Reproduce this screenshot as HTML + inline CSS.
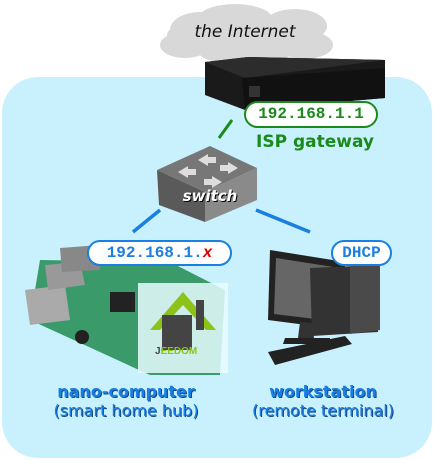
<!DOCTYPE html>
<html><head><style>
html,body{margin:0;padding:0;background:#fff;}
body{width:434px;height:460px;position:relative;overflow:hidden;font-family:"Liberation Sans","DejaVu Sans",sans-serif;}
.abs{position:absolute;}
.pill{position:absolute;background:#fff;border-radius:14px;font-family:"Liberation Mono","DejaVu Sans Mono",monospace;font-weight:bold;font-size:16px;text-align:center;box-sizing:border-box;}
.lbl{position:absolute;text-align:center;color:#1a7fe0;font-family:"DejaVu Sans",sans-serif;font-size:15px;line-height:19px;text-shadow:1px 1px 0 #124a8a;}
</style></head><body>
<div class="abs" style="left:2px;top:77px;width:430px;height:381px;background:#c9f1fd;border-radius:36px;"></div>
<svg class="abs" style="left:0;top:0" width="434" height="460">
 <g fill="#d8d8d8">
  <ellipse cx="245" cy="35" rx="78" ry="20"/>
  <ellipse cx="200" cy="30" rx="30" ry="18"/>
  <ellipse cx="235" cy="20" rx="38" ry="16"/>
  <ellipse cx="295" cy="26" rx="32" ry="17"/>
  <ellipse cx="185" cy="45" rx="25" ry="13"/>
  <ellipse cx="305" cy="45" rx="28" ry="14"/>
  <ellipse cx="245" cy="54" rx="45" ry="10"/>
 </g>
 <polygon points="205,62 248,57 385,60 385,98 245,110 205,95" fill="#1a1a1a"/>
 <polygon points="205,62 248,57 385,60 245,78" fill="#2c2c2c"/>
 <polygon points="242,78 385,68 385,98 245,110" fill="#111"/>
 <rect x="249" y="86" width="11" height="11" fill="#333"/>
 <line x1="232" y1="120" x2="219" y2="138" stroke="#1a8a1a" stroke-width="3"/>
 <polygon points="157,170 210,146 257,168 205,192" fill="#777"/>
 <polygon points="157,170 205,192 205,222 159,205" fill="#5a5a5a"/>
 <polygon points="205,192 257,168 257,200 205,222" fill="#8a8a8a"/>
 <g fill="#ddd">
  <polygon points="178,172 188,166 188,169 196,169 196,175 188,175 188,178"/>
  <polygon points="198,160 208,154 208,157 216,157 216,163 208,163 208,166"/>
  <polygon points="238,168 228,174 228,171 220,171 220,165 228,165 228,162"/>
  <polygon points="222,182 212,188 212,185 204,185 204,179 212,179 212,176"/>
 </g>
 <line x1="160" y1="210" x2="133" y2="232" stroke="#1a7fe0" stroke-width="3.5"/>
 <line x1="256" y1="210" x2="310" y2="232" stroke="#1a7fe0" stroke-width="3.5"/>
 <polygon points="40,260 170,262 225,290 220,375 150,375 30,320" fill="#3a9a6a"/>
 <polygon points="25,290 65,285 70,320 30,325" fill="#aaa"/>
 <polygon points="45,265 80,262 85,285 48,290" fill="#999"/>
 <polygon points="60,248 100,245 100,270 62,272" fill="#888"/>
 <rect x="110" y="292" width="25" height="20" fill="#222"/>
 <rect x="75" y="330" width="14" height="14" rx="7" fill="#222"/>
 <rect x="138" y="283" width="90" height="90" fill="#e8fbff" opacity="0.85"/>
 <polygon points="150,330 183,292 216,330 206,330 183,305 160,330" fill="#8cc21a"/>
 <rect x="162" y="315" width="30" height="35" fill="#444"/>
 <rect x="196" y="300" width="8" height="30" fill="#444"/>
 <polygon points="270,250 345,262 345,330 268,320" fill="#222"/>
 <polygon points="276,258 340,268 340,322 274,314" fill="#666"/>
 <polygon points="300,322 312,323 314,338 298,338" fill="#333"/>
 <polygon points="285,338 330,338 330,344 283,344" fill="#222"/>
 <polygon points="310,268 378,265 378,332 312,336" fill="#333"/>
 <polygon points="350,265 380,262 380,330 350,334" fill="#4a4a4a"/>
 <polygon points="268,352 345,336 352,344 275,365" fill="#222"/>
</svg>
<div class="abs" style="left:170px;top:22px;width:150px;text-align:center;font-style:italic;font-size:17px;font-family:'DejaVu Sans',sans-serif;color:#111;">the Internet</div>
<div class="pill" style="left:244px;top:101px;width:134px;height:27px;line-height:23px;border:2px solid #1a8a1a;color:#1a8a1a;">192.168.1.1</div>
<div class="abs" style="left:250px;top:132px;width:130px;text-align:center;color:#1a8a1a;font-weight:bold;font-size:17px;font-family:'DejaVu Sans',sans-serif;">ISP gateway</div>
<div class="abs" style="left:165px;top:187px;width:90px;text-align:center;color:#fff;font-weight:bold;font-style:italic;font-size:15px;font-family:'DejaVu Sans',sans-serif;text-shadow:1px 1px 0 #000;">switch</div>
<div class="pill" style="left:87px;top:240px;width:145px;height:26px;line-height:22px;border:2px solid #1a7fe0;color:#1a7fe0;">192.168.1.<span style="color:#d00;font-style:italic">x</span></div>
<div class="pill" style="left:331px;top:240px;width:61px;height:26px;line-height:22px;border:2px solid #1a7fe0;color:#1a7fe0;">DHCP</div>
<div class="abs" style="left:155px;top:346px;width:70px;text-align:left;font-weight:bold;font-size:10px;color:#444;">J<span style="color:#8cc21a">EEDOM</span></div>
<div class="lbl" style="left:26px;top:382px;width:200px;font-size:16px;"><b>nano-computer</b><br>(smart home hub)</div>
<div class="lbl" style="left:233px;top:382px;width:180px;font-size:16px;"><b>workstation</b><br>(remote terminal)</div>
</body></html>
